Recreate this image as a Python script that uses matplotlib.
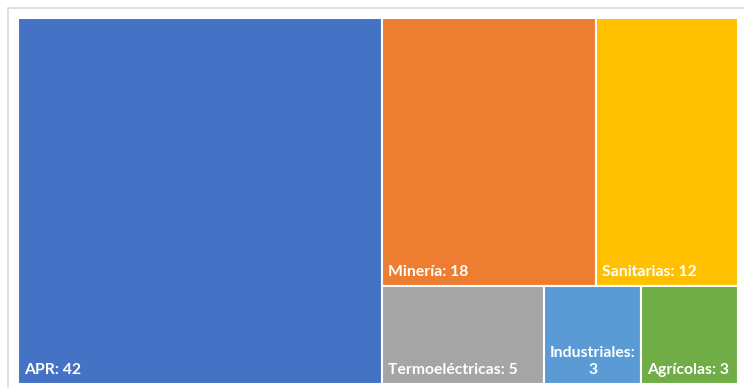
import matplotlib.pyplot as plt
from matplotlib.patches import Rectangle

# fuentes de agua por uso
categorias = ['APR', 'Minería', 'Sanitarias', 'Termoeléctricas', 'Industriales', 'Agrícolas']
valores = [42, 18, 12, 5, 3, 3]
colores = ['#4472C4', '#ED7D31', '#FFC000', '#A5A5A5', '#5B9BD5', '#70AD47']


def worst(fila, lado):
    s = sum(fila)
    return max(max(lado * lado * r / (s * s), s * s / (lado * lado * r)) for r in fila)


def squarify(areas, x, y, w, h):
    # algoritmo squarified (Bruls et al.), y crece hacia abajo
    rects = []
    areas = list(areas)
    while areas:
        lado = min(w, h)
        fila = [areas.pop(0)]
        while areas and worst(fila + [areas[0]], lado) <= worst(fila, lado):
            fila.append(areas.pop(0))
        s = sum(fila)
        if w >= h:
            ancho = s / h
            yy = y
            for a in fila:
                rects.append((x, yy, ancho, a / ancho))
                yy += a / ancho
            x += ancho
            w -= ancho
        else:
            alto = s / w
            xx = x
            for a in fila:
                rects.append((xx, y, a / alto, alto))
                xx += a / alto
            y += alto
            h -= alto
    return rects


W, H = 720, 366
total = sum(valores)
areas = [v * W * H / total for v in valores]
rects = squarify(areas, 0, 0, W, H)

fig = plt.figure(figsize=(7.44, 3.88), dpi=100)
fig.patches.append(Rectangle((8 / 744, -0.1), 1.1, 1 - 8 / 388 + 0.1,
                             transform=fig.transFigure, fill=False,
                             edgecolor='#D9D9D9', linewidth=1.2))
ax = fig.add_axes([18 / 744, 4 / 388, W / 744, H / 388])
ax.set_xlim(0, W)
ax.set_ylim(H, 0)
ax.axis('off')

fig.canvas.draw()
renderer = fig.canvas.get_renderer()

for (x, y, w, h), nombre, v, c in zip(rects, categorias, valores, colores):
    ax.add_patch(Rectangle((x, y), w, h, facecolor=c, edgecolor='white', linewidth=1.5))
    etiqueta = f'{nombre}: {v}'
    t = ax.text(x + 6, y + h - 10, etiqueta, color='white', fontsize=11.3,
                fontweight='bold', family='Lato', ha='left', va='baseline',
                multialignment='center')
    if t.get_window_extent(renderer).width > w - 10:
        t.set_text(f'{nombre}:\n{v}')
        t.set_linespacing(1.25)

fig.savefig('out.png', dpi=100)
